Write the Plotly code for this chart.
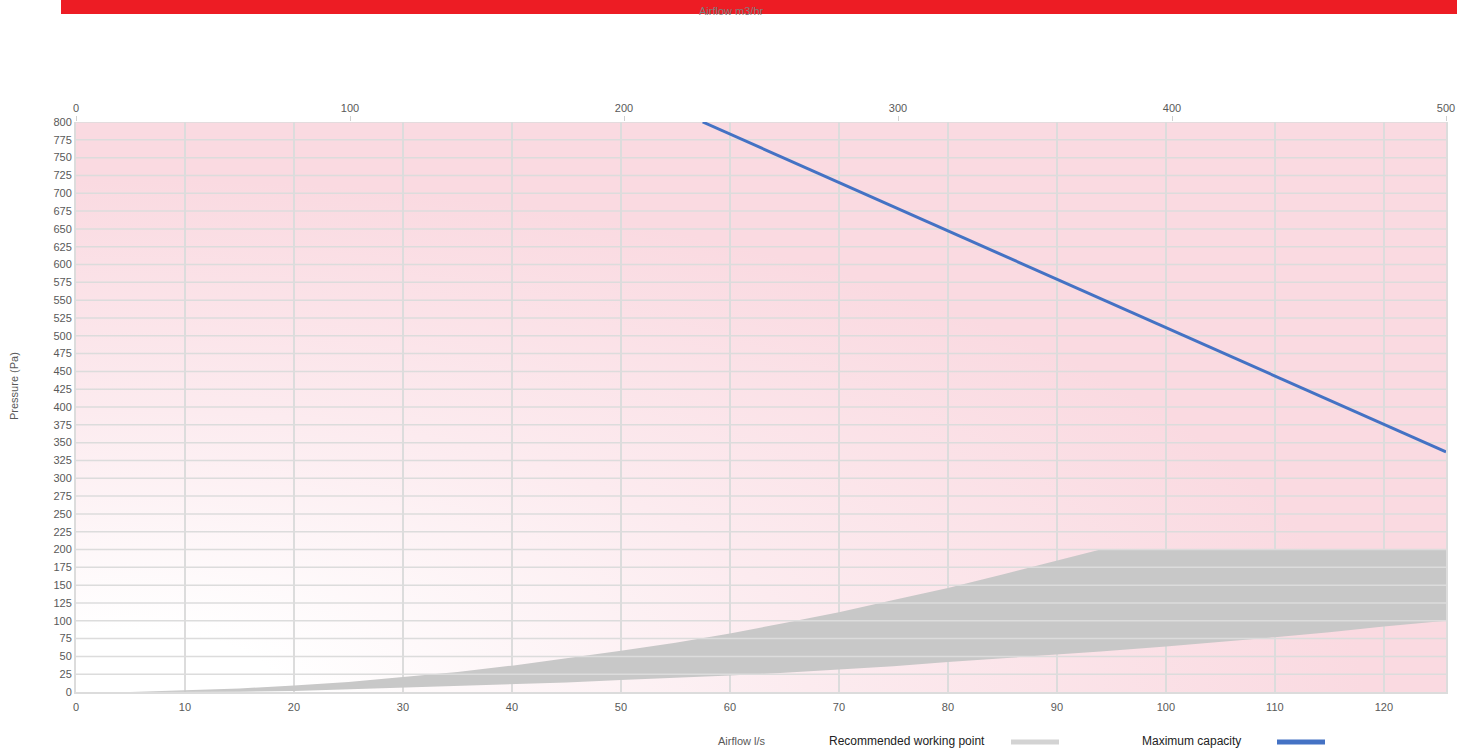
import base64
import plotly.graph_objects as go

# ---- data ----
flow_ls = [5, 10, 15, 20, 25, 30, 35, 40, 45, 50, 55, 60, 65, 70, 75, 80, 85, 90, 94,
           100, 105, 110, 115, 120, 125.7]
rec_upper = [0, 2.5, 5, 9, 14, 21, 28, 37, 47, 58, 69, 82, 97, 112, 129, 146, 165, 185, 200,
             200, 200, 200, 200, 200, 200]
rec_lower = [0, 0, 0.5, 1.5, 4, 6, 8, 10.5, 13.5, 17, 19.5, 23, 27, 31, 36, 42, 47, 52, 57,
             64, 70, 77, 84, 92, 100]
max_flow = [57.5, 125.7]
max_pressure = [800, 337]

x_ticks_ls = list(range(0, 130, 10))
x_ticks_m3h = [0, 100, 200, 300, 400, 500]
y_ticks = list(range(0, 825, 25))
x_max_ls = 125.7
x_max_m3h = 500
y_max = 800

W, H = 1472, 752
ML, MR, MT, MB = 76, 26, 122, 60
PW, PH = W - ML - MR, H - MT - MB

def px_x(p):
    return (p - ML) / PW

def px_y(p):
    return (H - MB - p) / PH

TICK_FONT = dict(family="Liberation Sans", size=11, color="#595959")
GRID = "#DCDCDC"

# background gradient (white bottom-left -> pink)
svg = (
    '<svg xmlns="http://www.w3.org/2000/svg" width="1370" height="570" preserveAspectRatio="none">'
    '<defs><radialGradient id="g" cx="0.04" cy="1.0" r="0.9" gradientUnits="objectBoundingBox">'
    '<stop offset="0.12" stop-color="#FFFFFF"/>'
    '<stop offset="0.55" stop-color="#FCEBEF"/>'
    '<stop offset="1" stop-color="#FADAE1"/>'
    '</radialGradient></defs>'
    '<rect width="1370" height="570" fill="url(#g)"/></svg>'
)
bg_src = "data:image/svg+xml;base64," + base64.b64encode(svg.encode()).decode()

fig = go.Figure()

# recommended working point band
fig.add_trace(go.Scatter(x=flow_ls, y=rec_lower, mode="lines", line=dict(width=0, color="#C8C8C8"),
                         hoverinfo="skip", showlegend=False))
fig.add_trace(go.Scatter(x=flow_ls, y=rec_upper, mode="lines", line=dict(width=0, color="#C8C8C8"),
                         fill="tonexty", fillcolor="#C8C8C8", name="Recommended working point",
                         showlegend=False))

# horizontal grid lines drawn over the band
gx, gy = [], []
for v in y_ticks[1:]:
    gx += [0, x_max_ls, None]
    gy += [v, v, None]
fig.add_trace(go.Scatter(x=gx, y=gy, mode="lines", line=dict(width=1.5, color=GRID),
                         hoverinfo="skip", showlegend=False))

# maximum capacity
fig.add_trace(go.Scatter(x=max_flow, y=max_pressure, mode="lines",
                         line=dict(width=3, color="#4472C4"), name="Maximum capacity",
                         showlegend=False))

# dummy trace to activate top axis
fig.add_trace(go.Scatter(x=[0, x_max_m3h], y=[None, None], xaxis="x2", mode="lines",
                         hoverinfo="skip", showlegend=False))

def label(text, x, y, size=11, color="#595959", angle=0):
    return dict(text=text, xref="paper", yref="paper", x=px_x(x), y=px_y(y),
                xanchor="center", yanchor="middle", showarrow=False, textangle=angle,
                font=dict(size=size, color=color))

fig.update_layout(
    width=W, height=H, autosize=False,
    margin=dict(l=ML, r=MR, t=MT, b=MB),
    paper_bgcolor="white", plot_bgcolor="rgba(0,0,0,0)",
    font=dict(family="Liberation Sans"),
    xaxis=dict(range=[0, x_max_ls], tickvals=x_ticks_ls, showgrid=True, gridcolor=GRID, gridwidth=1.5,
               zeroline=False, showline=True, linecolor=GRID, linewidth=2,
               tickfont=TICK_FONT, ticks="", ticklabelstandoff=4),
    xaxis2=dict(range=[0, x_max_m3h], tickvals=x_ticks_m3h, overlaying="x", side="top",
                showgrid=False, zeroline=False, showline=False, ticks="outside", ticklen=5,
                tickcolor="#D0D0D0", tickwidth=1, tickfont=TICK_FONT),
    yaxis=dict(range=[0, y_max], tickvals=y_ticks, showgrid=False, zeroline=False,
               showline=True, mirror=True, linecolor=GRID, linewidth=2,
               tickfont=TICK_FONT, ticks=""),
    images=[dict(source=bg_src, xref="paper", yref="paper", x=0, y=1, sizex=1, sizey=1,
                 sizing="stretch", xanchor="left", yanchor="top", layer="below")],
    shapes=[
        dict(type="rect", xref="paper", yref="paper", x0=px_x(61), x1=px_x(1457),
             y0=px_y(14), y1=px_y(-2), fillcolor="#ED1C24", line=dict(width=0), layer="above"),
        dict(type="line", xref="paper", yref="paper", x0=px_x(1011), x1=px_x(1059),
             y0=px_y(742), y1=px_y(742), line=dict(color="#D3D3D3", width=5)),
        dict(type="line", xref="paper", yref="paper", x0=px_x(1277), x1=px_x(1325),
             y0=px_y(742), y1=px_y(742), line=dict(color="#4472C4", width=5)),
    ],
    annotations=[
        label("Airflow m3/hr", 731, 11, color="#7F7F7F"),
        label("Airflow l/s", 742, 741),
        label("Pressure (Pa)", 14, 386, angle=-90),
        label("Recommended working point", 907, 741, size=12, color="#222222"),
        label("Maximum capacity", 1191, 741, size=12, color="#222222"),
    ],
)

fig.write_html("out.html", post_script="document.body.style.margin='0';",
               config={"displayModeBar": False})
